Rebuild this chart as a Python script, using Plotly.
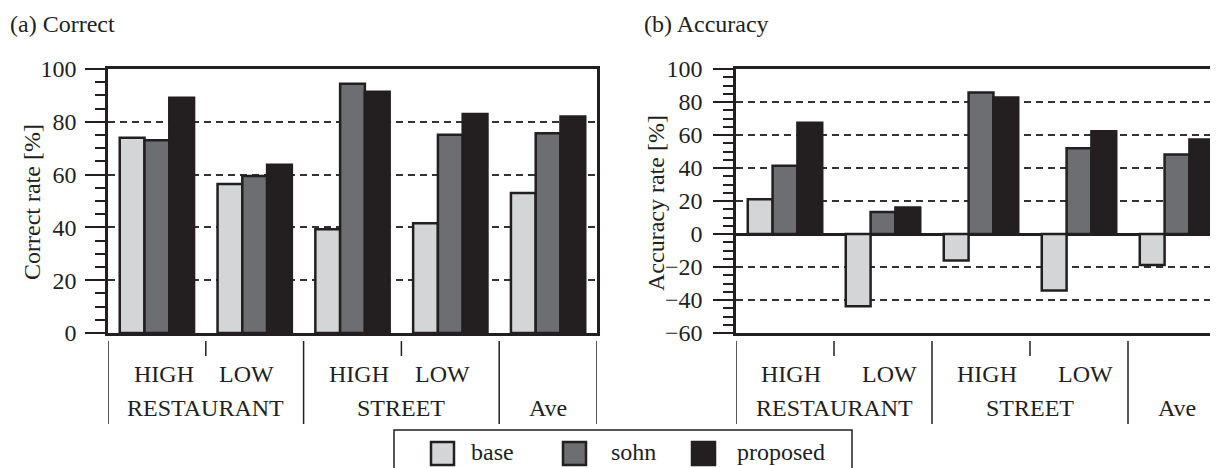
import plotly.graph_objects as go

# ---------------- data ----------------
categories = ["RESTAURANT-HIGH", "RESTAURANT-LOW", "STREET-HIGH", "STREET-LOW", "Ave"]
sub_labels = ["HIGH", "LOW", "HIGH", "LOW", ""]
group_labels = ["RESTAURANT", "STREET", "Ave"]
group_centers = [0.5, 2.5, 4.0]
series_names = ["base", "sohn", "proposed"]

correct_base = [74.0, 56.4, 39.3, 41.6, 53.0]
correct_sohn = [73.0, 59.5, 94.4, 75.1, 75.7]
correct_proposed = [89.1, 63.7, 91.4, 83.0, 82.0]

accuracy_base = [21.0, -43.8, -16.1, -34.3, -18.8]
accuracy_sohn = [41.4, 13.3, 85.8, 51.9, 48.2]
accuracy_proposed = [67.4, 16.1, 82.7, 62.3, 57.3]

correct_ticks = [0, 20, 40, 60, 80, 100]
accuracy_ticks = [-60, -40, -20, 0, 20, 40, 60, 80, 100]

# ---------------- style ----------------
OFF = 8                      # page body margin
SW, SH = 1218, 468           # screenshot size
W, H = SW - OFF, SH - OFF    # figure size
INK = "#231f20"
fills = ["#d4d5d7", "#6d6e71", "#231f20"]
FONT = "Liberation Serif"
TS = 24

def px(x):
    return (x - OFF) / W

def py(y):
    return 1 - (y - OFF) / H

fig = go.Figure()

for name, vals, col in zip(series_names, [correct_base, correct_sohn, correct_proposed], fills):
    fig.add_trace(go.Bar(x=categories, y=vals, name=name, marker=dict(color=col, line=dict(color=INK, width=2.5)),
                         xaxis="x", yaxis="y", showlegend=False))
for name, vals, col in zip(series_names, [accuracy_base, accuracy_sohn, accuracy_proposed], fills):
    fig.add_trace(go.Bar(x=categories, y=vals, name=name, marker=dict(color=col, line=dict(color=INK, width=2.5)),
                         xaxis="x2", yaxis="y2", showlegend=False))

ydom = [py(333), py(69)]

def yaxis_style(rng, ticks, mirror, anchor, standoff):
    return dict(
        domain=ydom, range=rng, tickvals=ticks, anchor=anchor, automargin=False,
        ticks="outside", ticklen=20, tickwidth=1.5, tickcolor=INK, ticklabelstandoff=standoff,
        minor=dict(dtick=5, ticks="outside", ticklen=10, tickwidth=1.5, tickcolor=INK, showgrid=False),
        showgrid=True, gridcolor="#333333", gridwidth=1.5, griddash="7px,5px",
        showline=True, linecolor=INK, linewidth=2.5, mirror=mirror,
        tickfont=dict(family=FONT, size=TS, color=INK), zeroline=False, fixedrange=True,
    )

def xaxis_style(dom, rng, anchor):
    return dict(
        domain=dom, range=rng, anchor=anchor, automargin=False,
        type="category", categoryorder="array", categoryarray=categories,
        showticklabels=False, ticks="", showgrid=False, zeroline=False,
        showline=True, linecolor=INK, linewidth=2.5, mirror=True, fixedrange=True,
    )

ax2 = yaxis_style([-60, 100], accuracy_ticks, False, "x2", 6)
ax2.update(zeroline=True, zerolinecolor=INK, zerolinewidth=2.5)

fig.update_layout(
    width=W, height=H, margin=dict(l=0, r=0, t=0, b=0, autoexpand=False),
    paper_bgcolor="white", plot_bgcolor="white",
    barmode="group", bargap=0.24, bargroupgap=0.0,
    xaxis=xaxis_style([px(108), px(597)], [-0.5, 4.5], "y"),
    yaxis=yaxis_style([0, 100], correct_ticks, True, "x", 4),
    xaxis2=xaxis_style([px(736), 1.0], [-0.5, -0.5 + (SW - 736) / 98.0], "y2"),
    yaxis2=ax2,
    font=dict(family=FONT, color=INK),
    showlegend=False,
)

shapes = []
ann = []

def txt(text, x, y, xref="paper", size=TS, xanchor="center", angle=0):
    ann.append(dict(text=text, x=x, y=y, xref=xref, yref="paper", showarrow=False, xanchor=xanchor,
                    yanchor="middle", textangle=angle, font=dict(family=FONT, size=size, color=INK)))

# panel titles and axis titles
txt("(a) Correct", px(8), py(24), xanchor="left")
txt("(b) Accuracy", px(642), py(24), xanchor="left")
txt("Correct rate [%]", px(32), py(202), angle=-90)
txt("Accuracy rate [%]", px(656), py(203), angle=-90)

# hierarchical category labels and separators (small per-panel label nudges, in category units)
nudges = {"x": {"HIGH": 0.07, "LOW": -0.08}, "x2": {"HIGH": 0.06, "LOW": 0.065}}
for xr in ["x", "x2"]:
    for i, lab in enumerate(sub_labels):
        if lab:
            txt(lab, i + nudges[xr][lab], py(374), xref=xr)
    for c, lab in zip(group_centers, group_labels):
        txt(lab, c, py(408), xref=xr)
    for b in [-0.5, 1.5, 3.5, 4.5]:
        shapes.append(dict(type="line", xref=xr, yref="paper", x0=b, x1=b, y0=py(341), y1=py(424),
                           line=dict(color=INK, width=1.5)))
    for b in [0.5, 2.5]:
        shapes.append(dict(type="line", xref=xr, yref="paper", x0=b, x1=b, y0=py(341), y1=py(356),
                           line=dict(color=INK, width=1.5)))

# legend box
shapes.append(dict(type="rect", xref="paper", yref="paper", x0=px(394), x1=px(852), y0=py(430), y1=py(490),
                   line=dict(color=INK, width=1.5), fillcolor="rgba(0,0,0,0)"))
sq_left = [431, 563, 692]
text_left = [469, 609, 735]
for name, col, sx, tx in zip(series_names, fills, sq_left, text_left):
    shapes.append(dict(type="rect", xref="paper", yref="paper", x0=px(sx), x1=px(sx + 23), y0=py(465), y1=py(442),
                       line=dict(color=INK, width=2.5), fillcolor=col))
    txt(name, px(tx), py(452), xanchor="left")

fig.update_layout(shapes=shapes, annotations=ann)
fig.write_html("out.html")
